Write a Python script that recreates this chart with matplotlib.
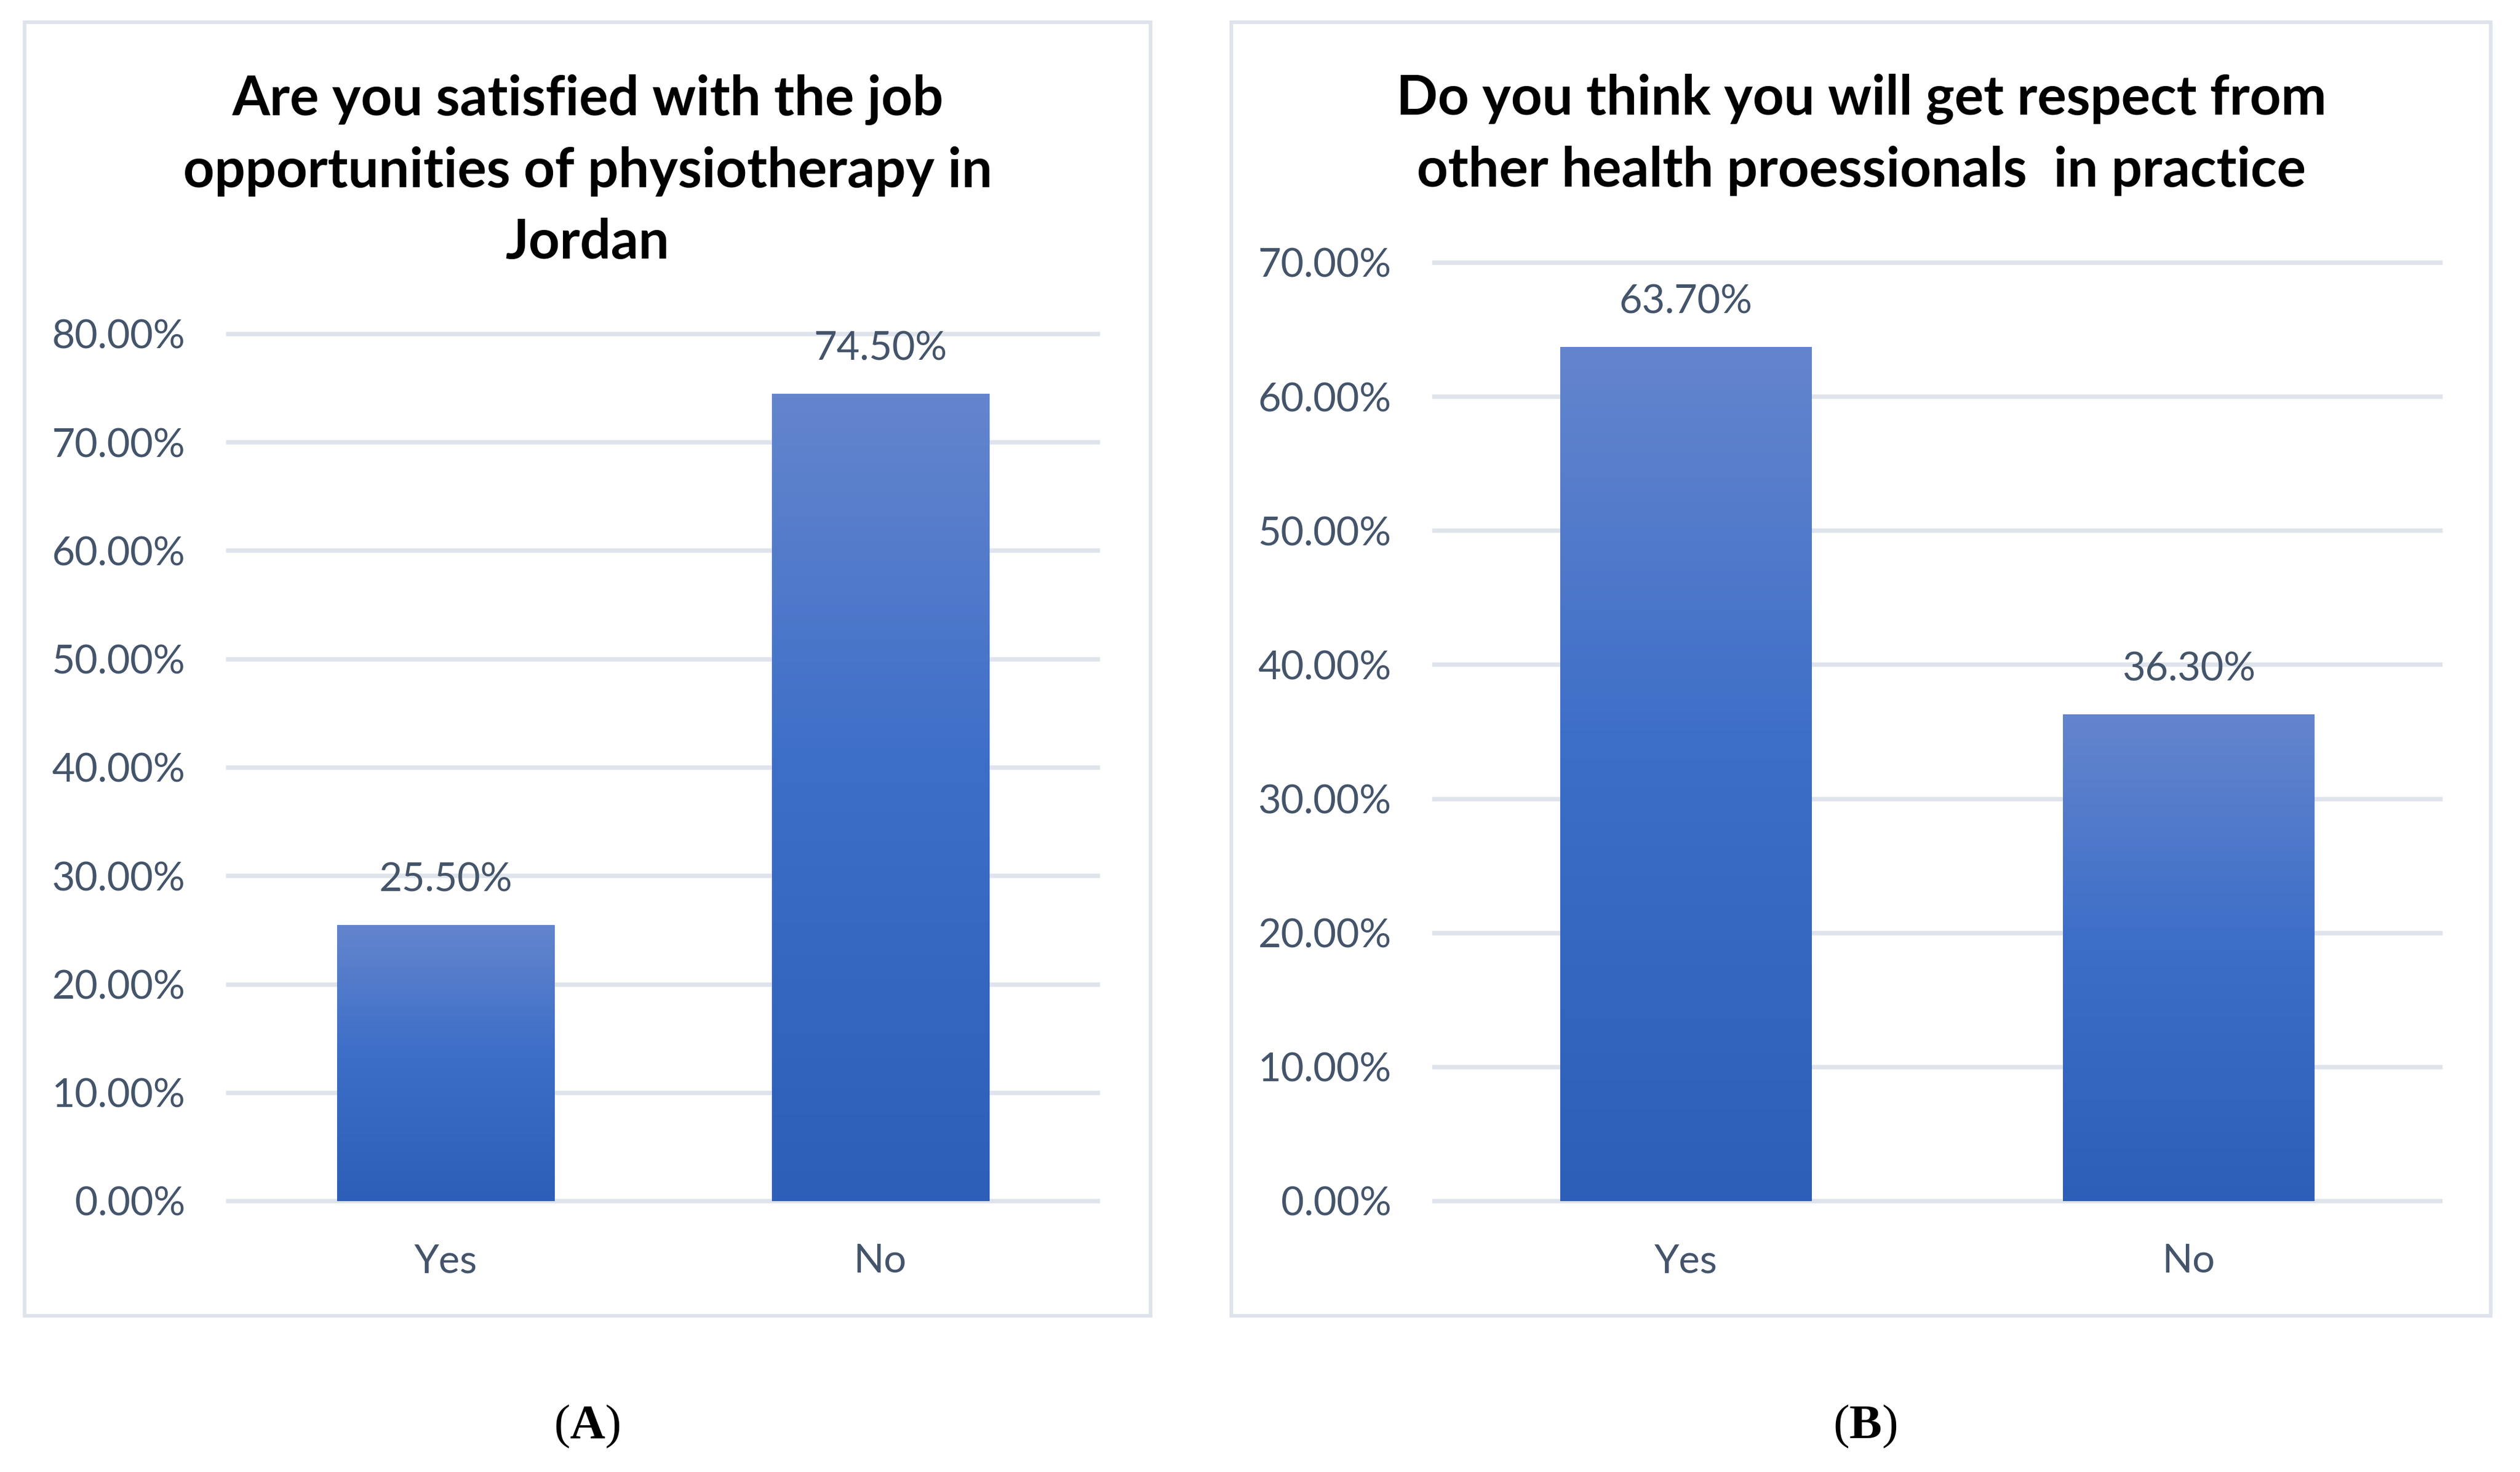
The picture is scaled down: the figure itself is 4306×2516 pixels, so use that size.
import numpy as np
import matplotlib
matplotlib.use("Agg")
import matplotlib.pyplot as plt
from matplotlib.patches import Rectangle
from matplotlib.colors import LinearSegmentedColormap

# ---- data ----
categories = ["Yes", "No"]
values_a = [25.5, 74.5]
values_b = [63.7, 36.3]
yticks_a = [0, 10, 20, 30, 40, 50, 60, 70, 80]
yticks_b = [0, 10, 20, 30, 40, 50, 60, 70]
title_a = ["Are you satisfied with the job", "opportunities of physiotherapy in", "Jordan"]
title_b = ["Do you think you will get respect from", "other health proessionals  in practice"]
panel_labels = ["A", "B"]

# ---- style ----
plt.rcParams['font.family'] = ['Lato', 'DejaVu Sans']
plt.rcParams['mathtext.fontset'] = 'custom'
plt.rcParams['mathtext.rm'] = 'Liberation Serif'
plt.rcParams['mathtext.bf'] = 'Liberation Serif:bold'

W, H = 4306, 2516
DPI = 100
fig = plt.figure(figsize=(W / DPI, H / DPI), dpi=DPI)
fig.patch.set_facecolor('white')

TXT = '#44546A'
GRID = '#DFE3EB'
cmap = LinearSegmentedColormap.from_list(
    'barg', [(0.0, '#2D5FB8'), (0.55, '#3E6FC8'), (1.0, '#6485CD')])
grad = np.linspace(0, 1, 256).reshape(-1, 1)


def fx(px):
    return px / W


def fy(py):
    return 1 - py / H


# panel borders
for (x0, y0, x1, y1) in [(42, 38, 1966, 2249), (2104, 38, 4256, 2249)]:
    fig.patches.append(Rectangle((fx(x0), fy(y1)), fx(x1) - fx(x0), fy(y0) - fy(y1),
                                 transform=fig.transFigure, fill=False,
                                 edgecolor=GRID, linewidth=4.5, zorder=0))


def draw_panel(rect, values, yticks, title_lines, title_cx, baselines, label, label_cx):
    ax = fig.add_axes(rect)
    ax.set_facecolor('none')
    x = np.arange(len(categories))
    bars = ax.bar(x, values, width=0.5, color='none', edgecolor='none', zorder=3)
    for p in bars:
        x0, y0 = p.get_x(), p.get_y()
        w, h = p.get_width(), p.get_height()
        im = ax.imshow(grad, extent=(x0, x0 + w, y0, y0 + h), origin='lower',
                       cmap=cmap, aspect='auto', zorder=3, interpolation='bilinear')
        im.set_clip_path(p)
    for v in yticks:
        ax.axhline(v, color=GRID, linewidth=5.4, zorder=1, clip_on=False)
    ax.set_xlim(-0.5, len(categories) - 0.5)
    ax.set_ylim(0, yticks[-1])
    ax.set_yticks(yticks)
    ax.set_yticklabels([f"{v:.2f}%" for v in yticks])
    ax.set_xticks(x)
    ax.set_xticklabels(categories)
    ax.tick_params(axis='both', length=0, labelsize=49, labelcolor=TXT)
    ax.tick_params(axis='y', pad=53)
    ax.tick_params(axis='x', pad=52)
    for s in ax.spines.values():
        s.set_visible(False)
    for i, v in enumerate(values):
        ax.annotate(f"{v:.2f}%", (x[i], v), xytext=(0, 55), textcoords='offset points',
                    ha='center', va='center', fontsize=49, color=TXT)
    for line, b in zip(title_lines, baselines):
        fig.text(fx(title_cx), fy(b), line, ha='center', va='baseline',
                 fontsize=67, fontweight='bold', color='black')
    fig.text(fx(label_cx), fy(2438), r"($\mathbf{" + label + r"}$)", ha='center', va='center',
             fontsize=60, family='Liberation Serif', color='black')
    return ax


draw_panel([fx(390), fy(2053), fx(1876) - fx(390), fy(571) - fy(2053)],
           values_a, yticks_a, title_a, 1004, [197, 320, 442], panel_labels[0], 1003)
draw_panel([fx(2451), fy(2053), fx(4170) - fx(2451), fy(449) - fy(2053)],
           values_b, yticks_b, title_b, 3181, [196, 319], panel_labels[1], 3187)

fig.savefig('out.png', dpi=DPI, facecolor='white')
